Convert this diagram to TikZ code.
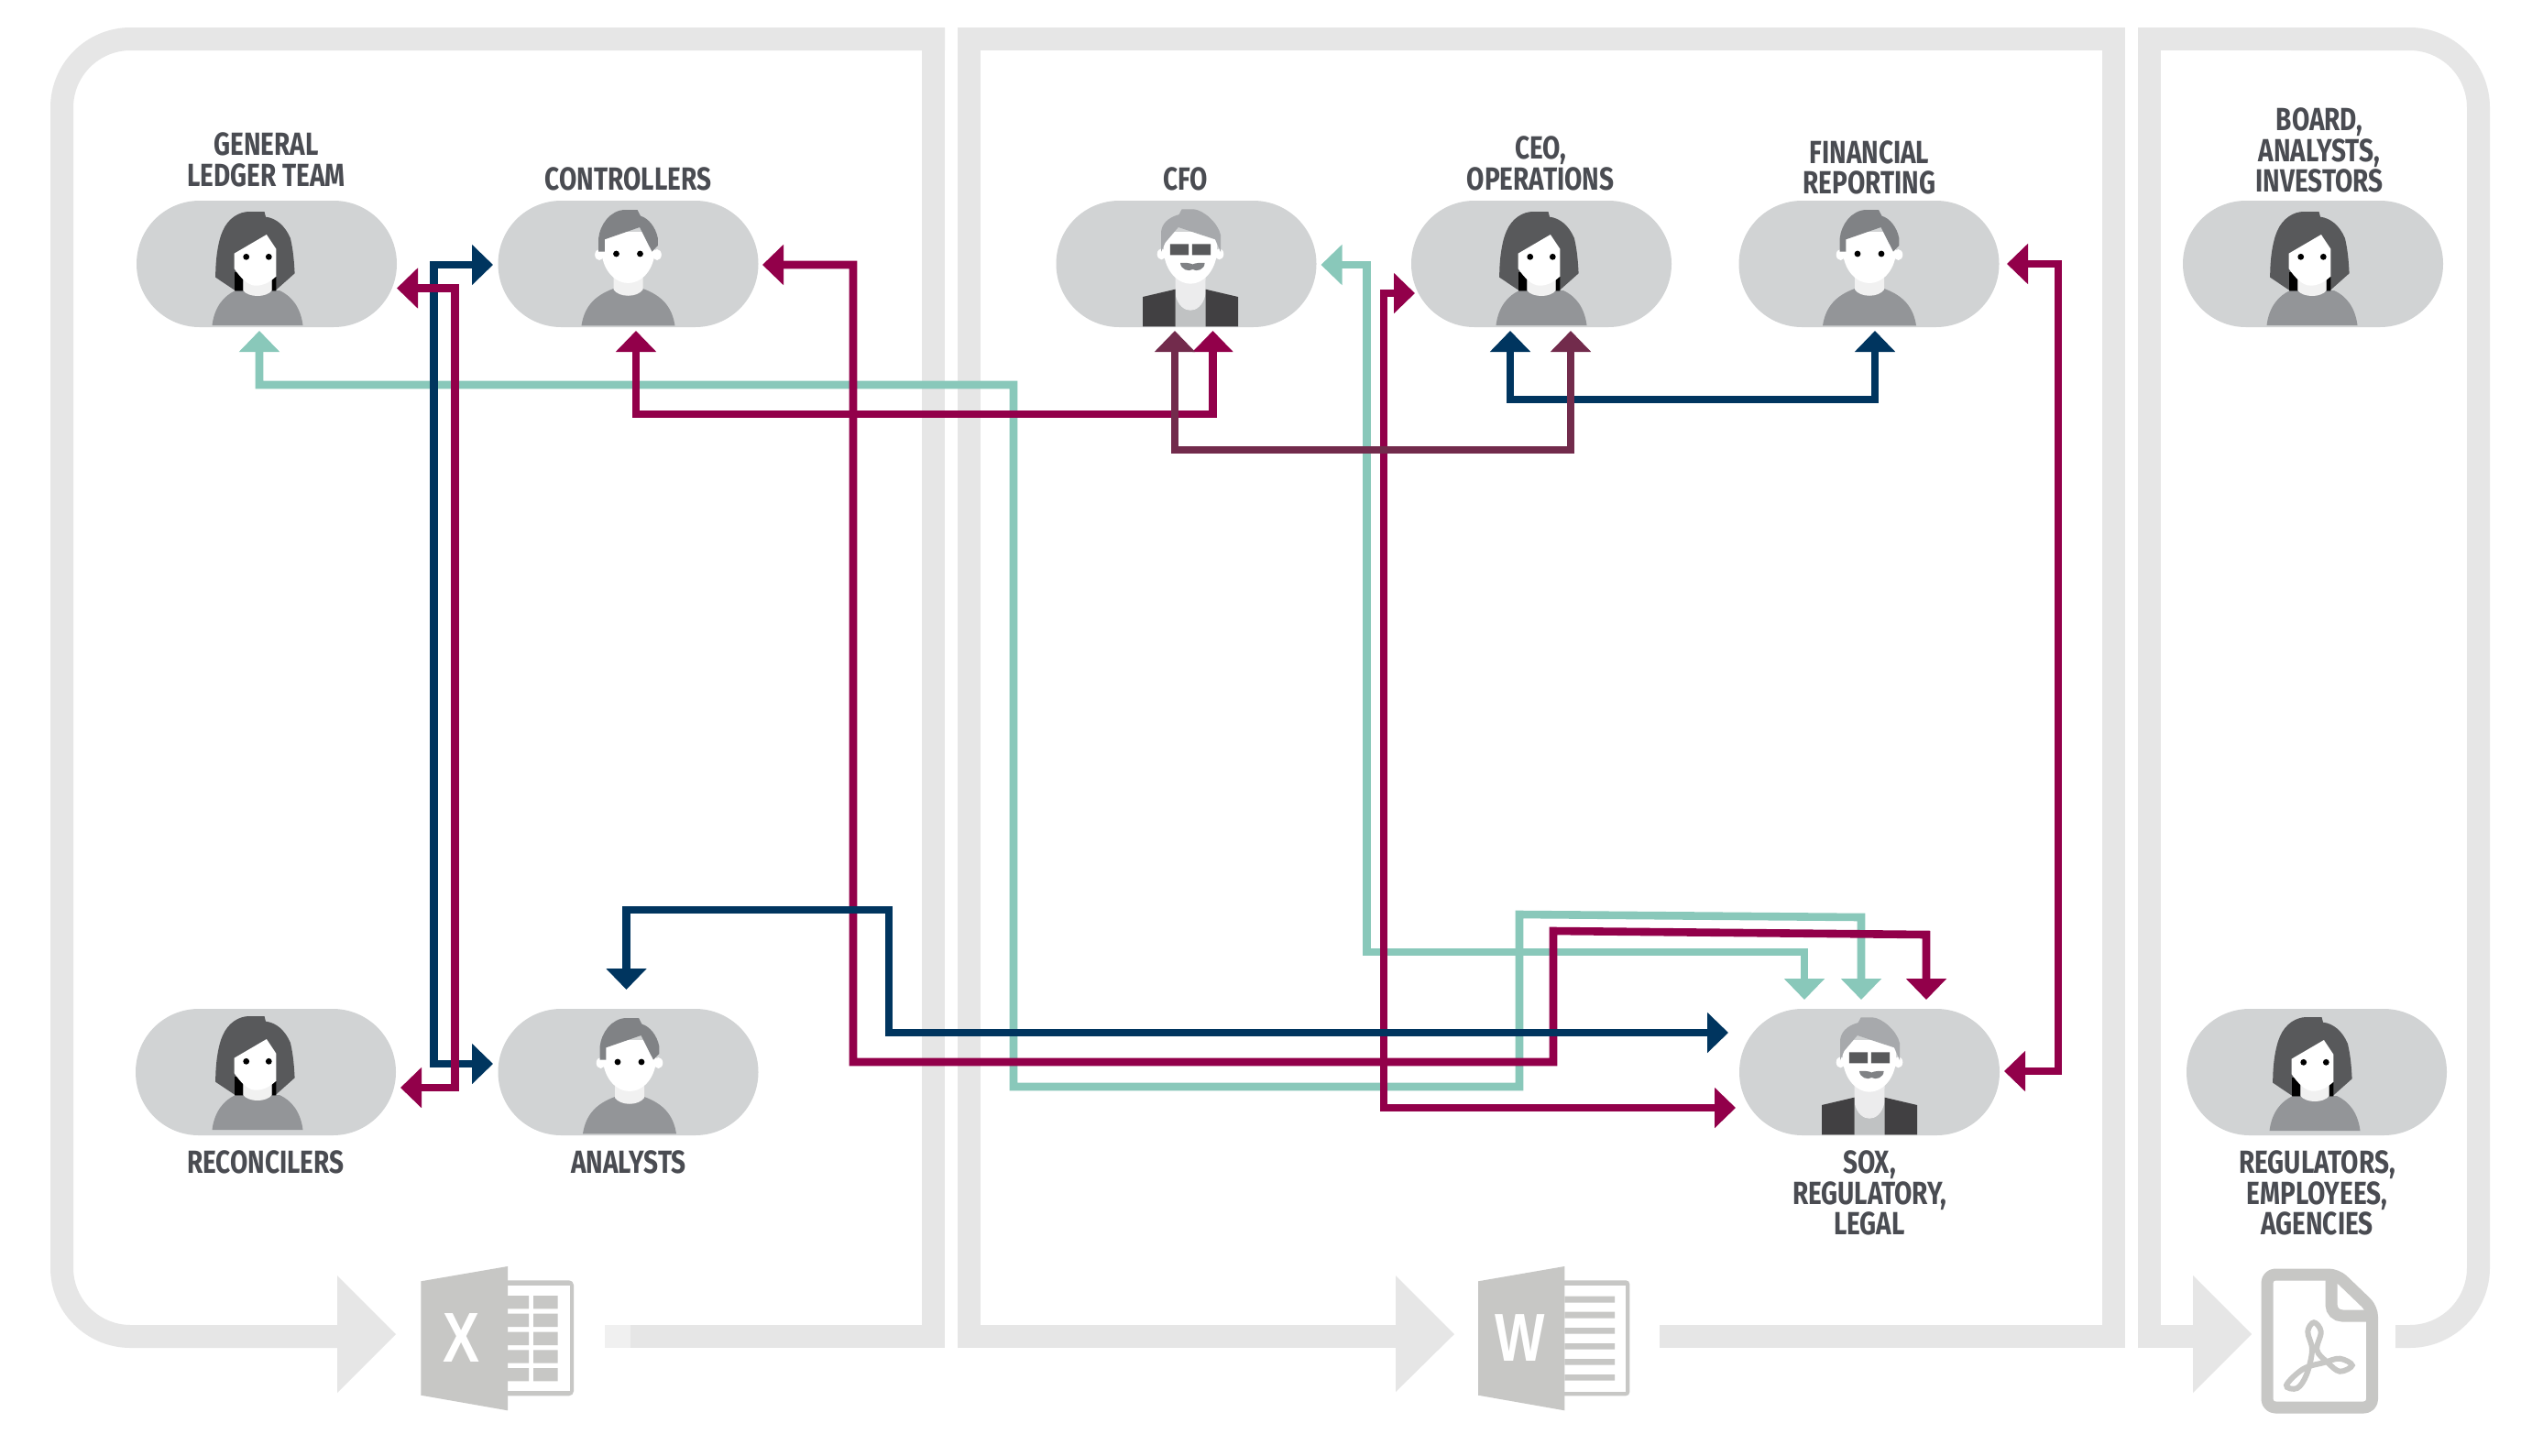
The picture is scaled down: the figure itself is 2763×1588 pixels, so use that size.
\documentclass[tikz,border=0pt]{standalone}
\usepackage{fontspec}
\setmainfont{Fira Sans}[FakeStretch=0.80]
\newfontfamily\iconfont{Liberation Sans}[FakeStretch=0.78]
\usetikzlibrary{arrows.meta}
\definecolor{bandc}{HTML}{E6E6E6}
\definecolor{pillc}{HTML}{D1D3D4}
\definecolor{iconc}{HTML}{C7C7C5}
\definecolor{navyc}{HTML}{00355F}
\definecolor{crimc}{HTML}{92004A}
\definecolor{tealc}{HTML}{89C8BA}
\definecolor{plumc}{HTML}{722B4C}
\definecolor{textc}{HTML}{4A4C52}
\definecolor{hairw}{HTML}{58595B}
\definecolor{hairm}{HTML}{808285}
\definecolor{hairb}{HTML}{A7A9AC}
\definecolor{shirtc}{HTML}{939598}
\definecolor{neckc}{HTML}{F1F1F1}
\definecolor{jackc}{HTML}{414042}
\tikzset{
  band/.style={draw=bandc,line width=25pt,line join=miter},
  bandfill/.style={fill=bandc},
  pill/.style={fill=pillc,rounded corners=68.9pt,minimum width=284pt,minimum height=138pt,inner sep=0pt},
  lbl/.style={font=\fontsize{35}{33.5}\selectfont\bfseries,text=textc,align=center,inner sep=0pt},
  conn/.style={line width=8.6pt,line join=miter,{Triangle[length=23pt,width=43pt]}-{Triangle[length=23pt,width=43pt]}},
  navy/.style={conn,draw=navyc,color=navyc},
  crim/.style={conn,draw=crimc,color=crimc},
  teal/.style={conn,draw=tealc,color=tealc},
  plum/.style={conn,draw=plumc,color=plumc},
  woman/.pic={
    \fill[shirtc] (-49.5,67) .. controls (-47,47) and (-37,35) .. (-24,29) -- (24,29) .. controls (37,35) and (47,47) .. (49.5,67) -- cycle;
    \fill[hairw] (7.5,-57) -- (9,-51.3) .. controls (20,-50) and (30,-42) .. (35.9,-28) .. controls (39,-15) and (40,-2) .. (40.6,10.3) -- (19.3,29.3) -- (-24,29.3) -- (-45.8,14.7) .. controls (-46,-5) and (-43,-25) .. (-38,-36) .. controls (-32,-50) and (-20,-57) .. (-9,-57) -- cycle;
    \fill[black] (-25,9) rectangle (-15.6,29.3) (15.6,14) rectangle (20.3,29.3);
    \fill[neckc] (-15.6,15) -- (15.6,15) -- (15.6,29) .. controls (10,37) and (-10,37) .. (-15.6,29) -- cycle;
    \fill[white] (-25.5,-11.3) -- (9.9,-32) -- (20.3,-16.3) -- (20.3,13.7) .. controls (12,21) and (6,23.7) .. (-2,23.7) .. controls (-10,23.7) and (-18,16) .. (-25.5,5) -- cycle;
    \fill[black] (-12.3,-7.7) circle (3.4) (12.3,-7.7) circle (3.4);
  },
  man/.pic={
    \fill[shirtc] (-51,67.3) .. controls (-48,48) and (-38,35) .. (-16,27) .. controls (-10,35) and (10,35) .. (16,27) .. controls (38,35) and (48,48) .. (51,67.3) -- cycle;
    \fill[neckc] (-16,15) -- (16,15) -- (16,28) .. controls (10,37) and (-10,37) .. (-16,28) -- cycle;
    \fill[white] (-31.5,-10) ellipse [x radius=4.8,y radius=6] (31.5,-10) ellipse [x radius=4.8,y radius=6];
    \fill[white] (-29,-35) -- (29,-35) -- (29,-12) .. controls (27,8) and (14,21) .. (0,21) .. controls (-14,21) and (-27,8) .. (-29,-12) -- cycle;
    \fill[hairm] (-32.3,-13.3) -- (-32.3,-28.3) .. controls (-31,-42) and (-20,-59) .. (-3,-59) -- (10,-59) -- (13.5,-52.3) .. controls (22,-50) and (30,-40) .. (32.3,-28.3) -- (32.3,-20) -- (26,-13.3) -- (12.5,-40) -- (-25.7,-26.7) -- (-25.7,-13.3) -- cycle;
    \fill[black] (-13,-11) circle (3.4) (13,-11) circle (3.4);
  },
  boss/.pic={
    \fill[pillc!92!black] (-16.5,18) rectangle (16.5,68.3);
    \fill[neckc!85!pillc] (-16.5,15) -- (16.5,15) -- (16.5,33) .. controls (14,46) and (6,50.7) .. (0,50.7) .. controls (-6,50.7) and (-14,46) .. (-16.5,33) -- cycle;
    \fill[jackc] (-52,36) -- (-16.5,27.7) -- (-16.5,68.3) -- (-52,68.3) -- cycle (16.5,27.7) -- (52,36) -- (52,68.3) -- (16.5,68.3) -- cycle;
    \fill[white] (-31.5,-10.7) ellipse [x radius=4.8,y radius=6] (31.5,-10.7) ellipse [x radius=4.8,y radius=6];
    \fill[white] (-29,-35) -- (29,-35) -- (29,-12) .. controls (27,8) and (14,21.7) .. (0,21.7) .. controls (-14,21.7) and (-27,8) .. (-29,-12) -- cycle;
    \fill[hairb] (-32,-13) -- (-32,-35) .. controls (-31,-43) and (-26,-50) .. (-12.3,-54) -- (-9.4,-59.7) -- (3.3,-59.7) .. controls (14,-59) and (30,-45) .. (33,-31.7) -- (33,-13) -- (27,-26.7) -- (-13.2,-40) -- (-27.4,-23.3) -- cycle;
    \fill[hairw] (-22.2,-21.7) rectangle (-1.9,-9.7) (1.9,-21.7) rectangle (22.2,-9.7);
    \fill[hairm] (-11,-1) .. controls (-6,-1.5) and (0,-1) .. (2.4,0.5) .. controls (5,-1) and (11,-1.5) .. (15.6,-1) .. controls (15.5,6) and (7,9) .. (2.4,6) .. controls (-2,9) and (-10.5,6) .. (-11,-1) -- cycle;
  }
}
\begin{document}
\begin{tikzpicture}[x=1pt,y=-1pt]
\useasboundingbox (0,0) rectangle (2763,1588);
\fill[white] (0,0) rectangle (2763,1588);

% bands: panel 1
\fill[bandfill] (1006,30) rectangle (1031,1471);
\draw[band] (1031,42.5) -- (400,42.5) [rounded corners=75pt] -- (67.5,42.5) -- (67.5,1458.5) -- (368,1458.5);
\fill[bandfill] (688,1446) rectangle (1031,1471);
\fill[bandc!60!white] (660,1446) rectangle (688,1471);
\fill[bandfill] (368,1392) -- (432,1456) -- (368,1520) -- cycle;
% panel 2
\draw[band] (1057.5,1471) -- (1057.5,42.5) -- (2306.5,42.5) -- (2306.5,1471);
\fill[bandfill] (1045,1446) rectangle (1523,1471);
\fill[bandfill] (1811,1446) rectangle (2319,1471);
\fill[bandfill] (1523,1392) -- (1587,1456) -- (1523,1519) -- cycle;
% panel 3
\draw[band] (2345.5,1471) -- (2345.5,42.5) -- (2500,42.5);
\draw[band,rounded corners=75pt] (2500,42.5) -- (2704.5,42.5) -- (2704.5,1458.5) -- (2614,1458.5);
\fill[bandfill] (2333,1446) rectangle (2393,1471);
\fill[bandfill] (2393,1392) -- (2457,1456) -- (2393,1520) -- cycle;

% excel icon
\fill[iconc,rounded corners=5pt] (540,1397.3) rectangle (626,1523.3);
\fill[white] (554,1403) rectangle (622,1518);
\fill[iconc] (554,1414) rectangle (577,1428.3) (582,1414) rectangle (608.7,1428.3)
 (554,1433.7) rectangle (577,1448) (582,1433.7) rectangle (608.7,1448)
 (554,1453.7) rectangle (577,1468) (582,1453.7) rectangle (608.7,1468)
 (554,1473.3) rectangle (577,1487.7) (582,1473.3) rectangle (608.7,1487.7)
 (554,1493) rectangle (577,1507.3) (582,1493) rectangle (608.7,1507.3);
\fill[iconc] (459.3,1398.3) -- (554,1382) -- (554,1539.3) -- (459.3,1522.7) -- cycle;
\node[text=white,inner sep=0pt,font=\iconfont\fontsize{77}{77}\selectfont\bfseries] (xl) at (504,1460) {X};
% word icon
\fill[iconc,rounded corners=4pt] (1695,1397.3) rectangle (1778.3,1523.3);
\fill[white] (1707.3,1403) rectangle (1774,1519);
\fill[iconc] (1707.3,1414.7) rectangle (1762,1421.7) (1707.3,1431.7) rectangle (1762,1438.7)
 (1707.3,1449) rectangle (1762,1455.7) (1707.3,1466) rectangle (1762,1472.7)
 (1707.3,1483) rectangle (1762,1489.7) (1707.3,1500) rectangle (1762,1506.7);
\fill[iconc] (1613,1398.3) -- (1707.3,1382) -- (1707.3,1539.3) -- (1613,1522.7) -- cycle;
\node[text=white,inner sep=0pt,font=\iconfont\fontsize{74}{74}\selectfont\bfseries] (wd) at (1658.3,1460) {W};
% pdf icon
\draw[iconc,line width=13pt,rounded corners=9pt,line join=round] (2474,1391) -- (2550,1391) -- (2588.5,1428) -- (2588.5,1536) -- (2474,1536) -- cycle;
\draw[iconc,line width=13pt,rounded corners=12pt] (2544,1391) -- (2544,1436) -- (2588,1436);
\draw[iconc,line width=6pt] plot[smooth cycle,tension=0.6] coordinates {(2525,1443.3) (2532.7,1453.3) (2528.3,1473.3) (2540,1487) (2553.3,1496.7) (2566.7,1490) (2553.3,1482.7) (2536,1487) (2513.3,1494) (2495,1511.7) (2506.7,1515) (2517,1500) (2523,1473.3) (2518.3,1453.3)};

% pills
\node[pill] (gl) at (291,288) {};
\node[pill] (ctrl) at (685.5,288) {};
\node[pill] (cfo) at (1294.5,288) {};
\node[pill] (ceo) at (1682,288) {};
\node[pill] (fin) at (2039.5,288) {};
\node[pill] (board) at (2524,288) {};
\node[pill] (rec) at (290,1170) {};
\node[pill] (ana) at (685.5,1170) {};
\node[pill] (sox) at (2040,1170) {};
\node[pill] (reg) at (2528,1170) {};
% people
\pic at (281,288) {woman};
\pic at (685.5,288) {man};
\pic at (1299,288) {boss};
\pic at (1682,288) {woman};
\pic at (2040,288) {man};
\pic at (2523,288) {woman};
\pic at (281,1166) {woman};
\pic at (687,1170) {man};
\pic at (2040,1170) {boss};
\pic at (2526,1167) {woman};

% labels
\node[lbl] (lgl) at (290.5,174.5) {GENERAL\\LEDGER TEAM};
\node[lbl] (lctrl) at (685.5,195) {CONTROLLERS};
\node[lbl] (lcfo) at (1294,195) {CFO};
\node[lbl] (lceo) at (1681,178.5) {CEO,\\OPERATIONS};
\node[lbl] (lfin) at (2040,183) {FINANCIAL\\REPORTING};
\node[lbl] (lboard) at (2531,164) {BOARD,\\ANALYSTS,\\INVESTORS};
\node[lbl] (lrec) at (290,1268.5) {RECONCILERS};
\node[lbl] (lana) at (686,1268.5) {ANALYSTS};
\node[lbl] (lsox) at (2040,1302) {SOX,\\REGULATORY,\\LEGAL};
\node[lbl] (lreg) at (2528.5,1302) {REGULATORS,\\EMPLOYEES,\\AGENCIES};

% connector ports
\coordinate (glE) at (433,314.5);
\coordinate (glS) at (283,361);
\coordinate (ctrlW) at (538,289);
\coordinate (ctrlE) at (832,289);
\coordinate (ctrlS) at (694,361);
\coordinate (cfoS1) at (1282,361);
\coordinate (cfoS2) at (1323.5,361);
\coordinate (cfoE) at (1441.5,289);
\coordinate (ceoW) at (1544,320);
\coordinate (ceoS1) at (1648,361);
\coordinate (ceoS2) at (1714,361);
\coordinate (finS) at (2046,361);
\coordinate (finE) at (2190,288);
\coordinate (recE) at (437,1187);
\coordinate (anaW) at (538,1161);
\coordinate (anaN) at (683.5,1080);
\coordinate (soxN1) at (1969,1091);
\coordinate (soxN2) at (2031,1091);
\coordinate (soxN3) at (2102,1091);
\coordinate (soxW1) at (1886,1127);
\coordinate (soxW2) at (1894,1209);
\coordinate (soxE) at (2187,1169);

% connectors
\draw[teal] (glS) -- (283,420) -- (1106,420) -- (1106,1186) -- (1658,1186) -- (1658,998) -- (2031,1001) -- (soxN2);
\draw[teal] (cfoE) -- (1491.5,289) -- (1491.5,1039) -- (1969,1039) -- (soxN1);
\draw[crim] (ctrlE) -- (931,289) -- (931,1159) -- (1695,1159) -- (1695,1016) -- (2102,1020) -- (soxN3);
\draw[crim] (ceoW) -- (1510,320) -- (1510,1209) -- (soxW2);
\draw[crim] (ctrlS) -- (694,452) -- (1323.5,452) -- (cfoS2);
\draw[navy] (ctrlW) -- (473.5,289) -- (473.5,1161) -- (anaW);
\draw[crim] (glE) -- (496.5,314.5) -- (496.5,1187) -- (recE);
\draw[navy] (anaN) -- (683.5,993) -- (970,993) -- (970,1127) -- (soxW1);
\draw[navy] (ceoS1) -- (1648,436) -- (2046,436) -- (finS);
\draw[plum] (cfoS1) -- (1282,491) -- (1714,491) -- (ceoS2);
\draw[crim] (finE) -- (2246,288) -- (2246,1169) -- (soxE);
\end{tikzpicture}
\end{document}
